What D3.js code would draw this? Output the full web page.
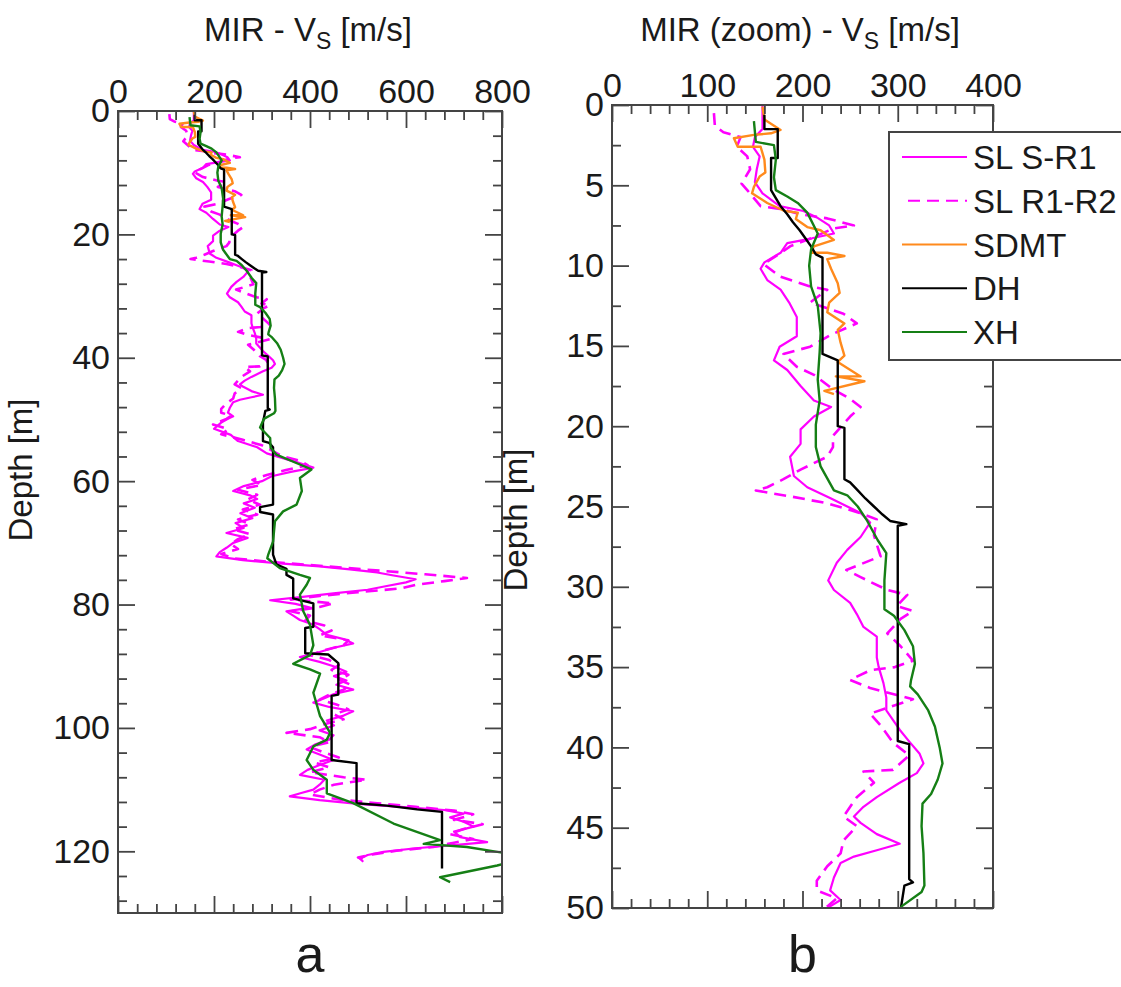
<!DOCTYPE html>
<head>
    <style>
        body { margin: 0; background: #fff; }
        text { font-family: "Liberation Sans", Arial, sans-serif; fill: #1a1a1a; }
    </style>
</head>
<body>
    <script src="https://d3js.org/d3.v7.min.js"></script>
    <script>
        const width = 1121;
        const height = 987;

        // [depth m, Vs m/s]
        const dh = [[0.6,160],[1.5,160],[1.5,174],[3.3,174],[3.3,167],[5.3,167],[5.8,172],[6.3,177],[6.8,184],[7.3,190],[7.8,197],[8.3,203],[8.8,209],[9.3,214],[9.5,221],[15.5,221],[15.9,237],[20,237],[20.1,244],[23.3,244],[23.5,250],[24.0,258],[24.5,266],[25.0,275],[25.5,284],[25.9,292],[26.1,309],[26.2,300],[39.6,300],[39.8,312],[48.2,312],[48.4,316],[48.6,307],[50.5,302],[53.5,302],[53.8,315],[54.5,323],[63.8,323],[64.2,296],[65.0,296],[65.4,323],[71.9,323],[73.5,330],[74.2,351],[75.2,351],[75.8,365],[79,365],[79.8,407],[83.6,407],[83.8,390],[87.9,390],[88.1,438],[89.5,459],[94.6,459],[94.8,445],[105.2,445],[105.7,497],[112.2,497],[112.6,560],[113.2,623],[113.6,675],[122.8,675]];

        const xh = [[1.0,149],[2.3,151],[2.5,170],[3.4,172],[4.5,170],[5.3,172],[5.7,184],[6.1,195],[6.7,205],[8.0,216],[9.0,209],[10,207],[11.3,209],[12.5,216],[14.2,219],[15.4,218],[17.1,216],[18.4,218],[19.9,214],[21.3,214],[22.5,219],[24.0,233],[24.3,247],[25,258],[25.9,268],[27.1,279],[27.9,288],[29.6,286],[31.4,286],[31.8,296],[32.7,307],[33.7,316],[34.8,318],[35.8,314],[36.2,313],[36.7,321],[37.7,332],[38.7,339],[40,344],[41,347],[42,342],[42.9,335],[43.5,326],[44.9,325],[46.6,327],[48.6,328],[49.0,325],[49.9,304],[51.3,296],[53,317],[54.6,318],[55.7,330],[57.3,379],[58.1,403],[59.5,379],[61.6,383],[63.8,372],[64.9,344],[66.5,327],[69.8,323],[71.9,313],[72.5,311],[74.1,337],[75.2,379],[75.7,400],[76.8,393],[78.4,379],[81.1,386],[83.3,400],[86.6,407],[88.2,400],[89.6,365],[90.5,400],[91.2,421],[94.3,407],[98.1,421],[100.8,442],[101.9,435],[103,407],[105.2,393],[106.8,407],[108.4,435],[110.6,435],[112.2,490],[115.5,574],[118.2,671],[118.8,637],[119.3,727],[120.4,815],[121.8,815],[122.3,790],[124.2,671],[125,692]];

        const sdmt = [[0.1,158],[0.9,160],[1.55,177],[1.76,167],[1.86,149],[2.07,128],[2.6,132],[2.6,156],[3.4,160],[4.2,161],[4.45,155],[5.1,149],[5.5,147],[6.1,163],[6.6,181],[6.7,195],[7.1,193],[7.6,205],[7.8,219],[8.4,233],[8.8,212],[9.2,209],[9.2,226],[9.4,244],[9.6,226],[10.2,230],[11.1,237],[11.7,239],[12.3,228],[12.9,226],[13.6,244],[14.0,237],[14.8,240],[15.6,244],[16.0,237],[16.9,261],[16.9,235],[17.2,265],[17.8,223],[18.0,233]];

        const slSR1 = [[0,158],[1.5,158],[2.0,150],[2.6,148],[3.2,155],[4.0,152],[4.8,150],[5.5,158],[6.3,176],[6.6,201],[7.0,215],[7.5,228],[8.0,233],[8.3,210],[8.6,184],[9.2,177],[9.8,160],[10.2,156],[10.9,163],[11.5,177],[12.3,186],[13.2,194],[14.4,194],[15.05,176],[15.9,170],[16.5,184],[17.5,198],[18.4,212],[18.8,230],[19.4,212],[20.2,198],[21.1,198],[21.9,187],[23.1,191],[23.8,205],[24.5,230],[25.0,247],[25.4,261],[26.0,271],[26.9,261],[27.7,247],[28.5,236],[29.6,227],[30.2,233],[31.0,250],[31.7,257],[32.5,264],[33.1,278],[34.4,278],[35.0,280],[36.0,285],[36.9,288],[37.7,288],[38.9,302],[39.7,313],[40.4,323],[41.0,327],[41.6,320],[42.2,302],[43.1,278],[43.7,264],[44.3,254],[44.7,261],[45.4,278],[46.0,302],[46.4,278],[46.8,254],[47.2,240],[48.1,233],[48.9,229],[49.5,240],[49.9,229],
            [50.5,215],[51.5,200],[52.5,235],[53.5,250],[54.5,290],[55.5,310],[56.3,345],[57.0,375],[57.8,407],[58.5,360],[59.2,320],[60.0,300],[60.8,262],[61.6,240],[62.3,275],[62.9,290],[63.6,262],[64.3,285],[65.2,255],[66.0,280],[66.8,245],[67.6,262],[68.4,226],[69.2,270],[70.0,240],[70.8,226],[71.5,212],[72.2,205],[72.8,260],[73.3,330],[73.8,420],[74.3,483],[74.8,540],[75.3,574],[75.9,620],[76.4,600],[77.0,560],[77.6,520],[78.2,449],[78.8,380],[79.3,317],[79.9,370],[80.5,400],[81.1,351],[81.8,365],[82.5,379],[83.2,405],[84.0,420],[84.9,435],[85.6,470],[86.3,490],[87.0,450],[87.7,420],[88.5,379],[89.3,420],[90.0,449],[90.9,476],[91.6,450],[92.3,476],[93.0,455],[93.8,490],[94.5,450],[95.2,430],[95.9,407],[96.6,440],[97.3,490],[98.0,470],[98.8,435],[99.6,450],[100.4,420],[101.2,449],[101.9,440],[102.7,410],[103.5,393],[104.3,420],[105.2,449],[106.0,420],[106.8,395],[107.6,379],[108.4,430],[109.2,420],[110.0,407],[110.6,380],[111.1,358],[111.7,420],[112.3,500],[112.8,588],[113.3,680],[113.9,720],[114.5,692],[115.2,720],[116.0,741],[116.8,700],[117.7,713],[118.5,769],[119.0,700],[119.5,620],[120.1,553],[120.6,520],[121.2,504],[121.7,511]];

        const slR1R2 = [[0.5,107],[1.3,108],[1.7,117],[2.0,135],[2.6,131],[3.2,142],[4.0,145],[4.9,136],[5.3,142],[6.3,156],[6.5,180],[6.8,197],[7.06,226],[7.5,254],[7.7,232],[8.4,205],[8.8,187],[9.3,175],[9.9,159],[10.7,177],[11.3,208],[11.5,226],[12.3,208],[13.0,243],[13.6,257],[14.3,230],[15.05,208],[15.5,180],[16.3,194],[16.8,212],[17.7,232],[18.3,250],[18.8,261],[19.4,250],[20.6,232],[21.3,232],[21.9,226],[22.7,198],[23.3,180],[23.8,163],[24.0,151],[24.2,170],[24.4,190],[24.8,226],[25.4,260],[25.8,278],[26.8,275],[28.1,282],[28.95,246],[29.4,261],[30.2,289],[30.5,310],[31.2,299],[31.5,316],[32.0,303],[32.9,289],[33.7,303],[34.6,316],[35.0,297],[35.2,271],[35.8,250],[36.3,271],[37.0,316],[37.9,271],[38.7,283],[39.7,295],[40.5,312],[41.4,295],[41.5,264],[42.2,275],[43.1,257],[44.3,243],[44.9,257],[45.8,243],[46.6,240],[47.4,226],[48.3,215],[48.9,215],[49.4,236],[49.9,226],
            [50.8,198],[51.6,230],[52.4,215],[53.3,260],[54.2,300],[55.0,320],[55.9,340],[56.7,379],[57.4,395],[58.2,350],[59.0,310],[59.8,280],[60.6,300],[61.4,250],[62.2,290],[63.0,270],[63.8,296],[64.6,260],[65.4,290],[66.2,250],[67.0,275],[67.8,240],[68.6,275],[69.4,250],[70.2,235],[71.0,250],[71.8,215],[72.5,240],[73.1,320],[73.6,400],[74.1,480],[74.6,560],[75.1,640],[75.7,727],[76.2,680],[76.8,620],[77.4,588],[78.0,500],[78.6,420],[79.2,360],[79.8,449],[80.4,420],[81.1,360],[81.8,400],[82.6,390],[83.4,430],[84.2,445],[85.0,420],[85.8,480],[86.6,470],[87.4,430],[88.2,400],[89.0,440],[89.8,460],[90.6,445],[91.4,480],[92.2,460],[93.0,485],[93.8,470],[94.6,440],[95.4,420],[96.2,455],[97.0,480],[97.8,450],[98.6,470],[99.4,430],[100.2,400],[100.8,351],[101.5,420],[102.3,440],[103.1,400],[104.0,430],[104.8,460],[105.6,410],[106.4,440],[107.2,400],[108.0,470],[108.4,518],[109.2,450],[110.0,420],[110.8,400],[111.6,460],[112.2,540],[112.8,620],[113.4,700],[114.0,740],[114.9,700],[115.6,760],[116.4,720],[117.2,690],[118.0,740],[118.6,700],[119.3,657],[119.9,580],[120.5,530],[121.0,500],[121.4,515]];

        const series = [
            {name: "SL S-R1", data: slSR1, color: "#ff00ff", dash: null, w: 2.2},
            {name: "SL R1-R2", data: slR1R2, color: "#ff00ff", dash: "12,7", w: 2.6},
            {name: "SDMT", data: sdmt, color: "#ff8a1c", dash: null, w: 2.4},
            {name: "DH", data: dh, color: "#000000", dash: null, w: 2.4},
            {name: "XH", data: xh, color: "#157f15", dash: null, w: 2.4}
        ];

        const panels = [
            {id: "a", left: 118, right: 502, top: 111, bottom: 913, xmax: 800, ymax: 130,
             xMajor: 200, xMinor: 40, yMajor: 20, yMinor: 4,
             title: "MIR - V", titleEnd: " [m/s]", tx: 308, ylx: 32, yly: 470},
            {id: "b", left: 612, right: 993, top: 105, bottom: 908, xmax: 400, ymax: 50,
             xMajor: 100, xMinor: 20, yMajor: 5, yMinor: 2.5,
             title: "MIR (zoom) - V", titleEnd: " [m/s]", tx: 800, ylx: 527, yly: 520}
        ];

        const svg = d3.select("body").append("svg").attr("width", width).attr("height", height);

        panels.forEach(p => {
            const x = d3.scaleLinear().domain([0, p.xmax]).range([p.left, p.right]);
            const y = d3.scaleLinear().domain([0, p.ymax]).range([p.top, p.bottom]);

            const xmaj = d3.range(0, p.xmax + 1e-6, p.xMajor);
            const xmin = d3.range(0, p.xmax + 1e-6, p.xMinor).filter(v => Math.abs(v / p.xMajor - Math.round(v / p.xMajor)) > 1e-6);
            const ymaj = d3.range(0, p.ymax + 1e-6, p.yMajor);
            const ymin = d3.range(0, p.ymax + 1e-6, p.yMinor).filter(v => Math.abs(v / p.yMajor - Math.round(v / p.yMajor)) > 1e-6);

            svg.append("clipPath").attr("id", "clip" + p.id)
                .append("rect").attr("x", p.left).attr("y", p.top)
                .attr("width", p.right - p.left).attr("height", p.bottom - p.top);

            const g = svg.append("g").attr("clip-path", `url(#clip${p.id})`);
            const line = d3.line().x(d => x(d[1])).y(d => y(d[0]));
            series.forEach(s => {
                g.append("path").attr("d", line(s.data))
                    .attr("fill", "none").attr("stroke", s.color)
                    .attr("stroke-width", s.w).attr("stroke-dasharray", s.dash)
                    .attr("stroke-linejoin", "round");
            });

            // axes: ticks point inward
            const axes = [
                [d3.axisTop(x), `translate(0,${p.top})`, xmaj, xmin, true],
                [d3.axisBottom(x), `translate(0,${p.bottom})`, xmaj, xmin, false],
                [d3.axisLeft(y), `translate(${p.left},0)`, ymaj, ymin, true],
                [d3.axisRight(y), `translate(${p.right},0)`, ymaj, ymin, false]
            ];
            axes.forEach(([ax, tr, maj, min, labels]) => {
                const gmin = svg.append("g").attr("transform", tr)
                    .call(ax.tickValues(min).tickSize(-9).tickFormat(""));
                gmin.select(".domain").remove();
                const gmaj = svg.append("g").attr("transform", tr)
                    .call(ax.tickValues(maj).tickSize(-17).tickPadding(8).tickFormat(labels ? d3.format("d") : ""));
                gmaj.select(".domain").remove();
                gmaj.selectAll("text").attr("font-size", 34).attr("font-family", "Liberation Sans, Arial, sans-serif").attr("fill", "#1a1a1a");
                [gmin, gmaj].forEach(gg => gg.selectAll("line").attr("stroke", "#444").attr("stroke-width", 1.8));
            });

            svg.append("rect").attr("x", p.left).attr("y", p.top)
                .attr("width", p.right - p.left).attr("height", p.bottom - p.top)
                .attr("fill", "none").attr("stroke", "#444").attr("stroke-width", 2);

            const t = svg.append("text").attr("x", p.tx).attr("y", 41)
                .attr("text-anchor", "middle").attr("font-size", 33);
            t.append("tspan").text(p.title);
            t.append("tspan").text("S").attr("font-size", 23).attr("dy", 8);
            t.append("tspan").text(p.titleEnd).attr("dy", -8);

            svg.append("text").attr("transform", `translate(${p.ylx},${p.yly}) rotate(-90)`)
                .attr("text-anchor", "middle").attr("font-size", 33).text("Depth [m]");

            svg.append("text").attr("x", (p.left + p.right) / 2).attr("y", 972)
                .attr("text-anchor", "middle").attr("font-size", 52).text(p.id);
        });

        // legend on panel b
        const leg = svg.append("g");
        leg.append("rect").attr("x", 889).attr("y", 132).attr("width", 260).attr("height", 228)
            .attr("fill", "#fff").attr("stroke", "#444").attr("stroke-width", 2);
        const ly = d3.scalePoint().domain(series.map(s => s.name)).range([157, 332]);
        series.forEach(s => {
            leg.append("line").attr("x1", s.dash ? 908 : 902).attr("x2", 967)
                .attr("y1", ly(s.name)).attr("y2", ly(s.name))
                .attr("stroke", s.color).attr("stroke-width", 2.2).attr("stroke-dasharray", s.dash);
            leg.append("text").attr("x", 973).attr("y", ly(s.name) + 12)
                .attr("font-size", 33).text(s.name);
        });
    </script>
</body>
</html>
